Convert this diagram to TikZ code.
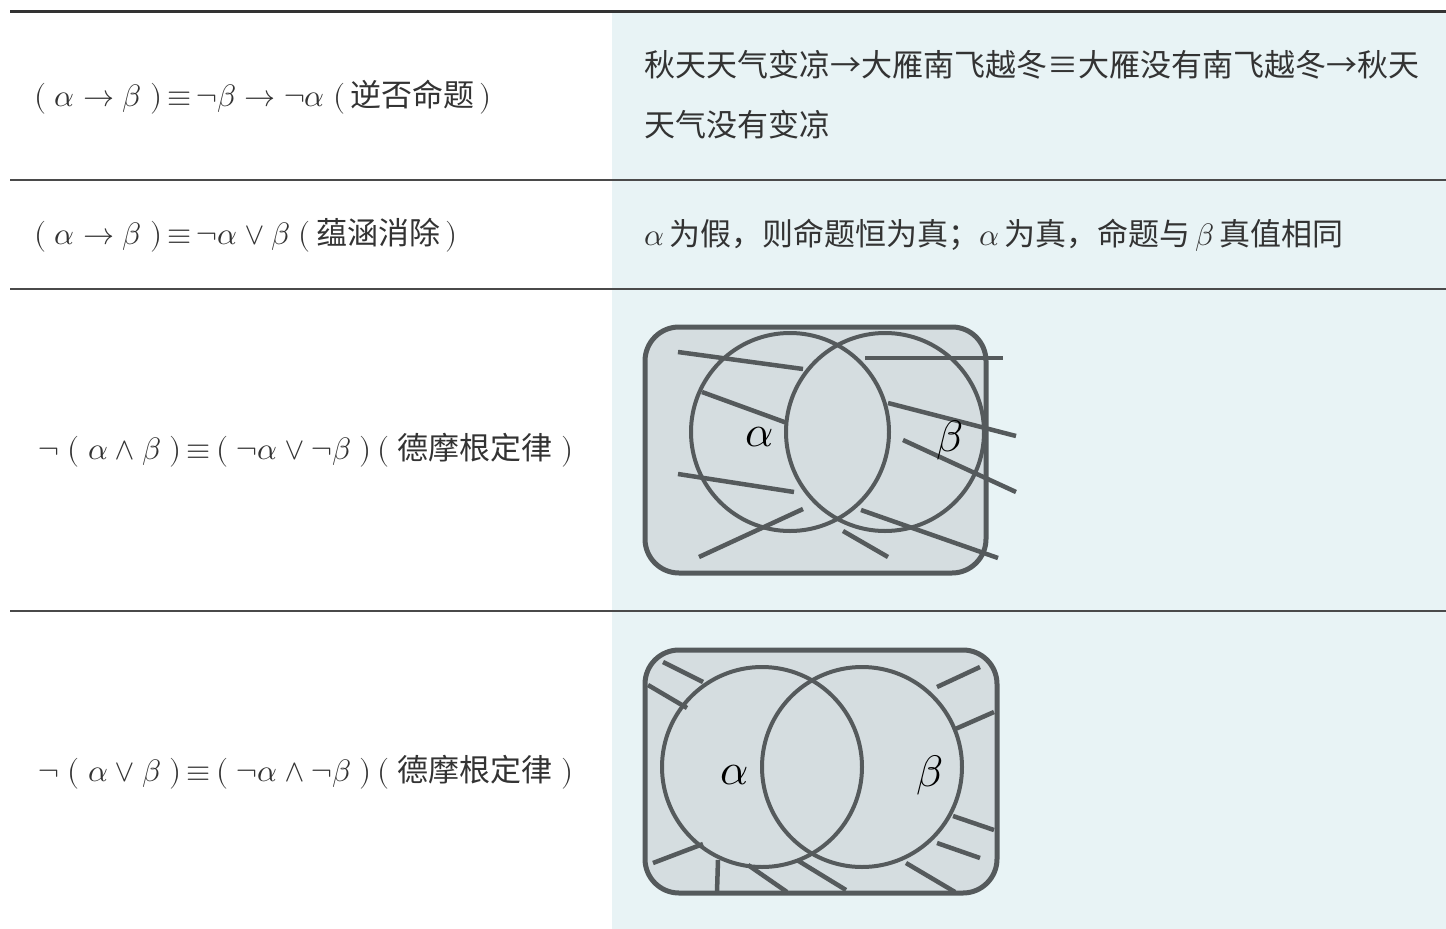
\documentclass[tikz,border=0pt]{standalone}
\usepackage{fontspec}
\usepackage{unicode-math}
\setmainfont{Noto Sans CJK SC}
\setmathfont{Latin Modern Math}
\definecolor{bgblue}{HTML}{E8F3F5}
\definecolor{txt}{HTML}{333333}
\definecolor{rule}{HTML}{4A4A4A}
\definecolor{vfill}{HTML}{D5DDE0}
\definecolor{vline}{HTML}{555A5C}
\tikzset{
  toprule/.style={draw=txt, line width=3pt},
  midrule/.style={draw=rule, line width=1.6pt},
  cell/.style={inner sep=0pt, anchor=west, text=txt, font=\fontsize{31}{60}\selectfont},
  vbox/.style={draw=vline, fill=vfill, line width=5pt, rounded corners=34pt},
  vcirc/.style={draw=vline, line width=4pt},
  hatch/.style={draw=vline, line width=4.5pt},
  vlab/.style={inner sep=0pt, text=black, font=\fontsize{44}{50}\selectfont}
}
\begin{document}
\begin{tikzpicture}[x=1pt,y=-1pt]
\useasboundingbox (0,0) rectangle (1446,929);
\fill[white] (0,0) rectangle (1446,929);
\fill[bgblue] (612,12) rectangle (1446,929);
% rules
\draw[toprule] (10,11) -- (1446,11);
\draw[midrule] (10,180) -- (1446,180);
\draw[midrule] (10,289) -- (1446,289);
\draw[midrule] (10,611) -- (1446,611);
% left column
\node[cell] (l1) at (34,97) {$(\;\alpha\rightarrow\beta\;)\,{\equiv}\,\neg\beta\rightarrow\neg\alpha\;(\,$逆否命题$\,)$};
\node[cell] (l2) at (34,235) {$(\;\alpha\rightarrow\beta\;)\,{\equiv}\,\neg\alpha\vee\beta\;(\,$蕴涵消除$\,)$};
\node[cell] (l3) at (38,450) {$\neg\;(\;\alpha\wedge\beta\;)\,{\equiv}\,(\;\neg\alpha\vee\neg\beta\;)\,(\;$德摩根定律$\;)$};
\node[cell] (l4) at (38,772) {$\neg\;(\;\alpha\vee\beta\;)\,{\equiv}\,(\;\neg\alpha\wedge\neg\beta\;)\,(\;$德摩根定律$\;)$};
% right column
\node[cell, align=left] (r1) at (644,95) {秋天天气变凉→大雁南飞越冬≡大雁没有南飞越冬→秋天\\天气没有变凉};
\node[cell] (r2) at (644,235) {$\alpha$\,为假，则命题恒为真；$\alpha$\,为真，命题与\,$\beta$\,真值相同};
% Venn 1
\draw[vbox] (645,327) rectangle (986,573);
\draw[hatch] (678,352) -- (803,369);
\draw[hatch] (865,358) -- (1003,358);
\draw[hatch] (702,392) -- (787,423);
\draw[hatch] (888,403) -- (1016,436);
\draw[hatch] (903,440) -- (1016,492);
\draw[hatch] (678,474) -- (794,492);
\draw[hatch] (803,509) -- (699,557);
\draw[hatch] (861,510) -- (998,558);
\draw[hatch] (843,531) -- (888,557);
\draw[vcirc] (790,432) circle[radius=99];
\draw[vcirc] (885,432) circle[radius=99];
\node[vlab] (a1) at (760,437) {$\alpha$};
\node[vlab] (b1) at (950,440) {$\beta$};
% Venn 2
\draw[vbox] (645,650) rectangle (997,893);
\draw[hatch] (663,662) -- (703,682);
\draw[hatch] (648,685) -- (687,708);
\draw[hatch] (937,687) -- (980,667);
\draw[hatch] (953,730) -- (994,712);
\draw[hatch] (953,816) -- (994,830);
\draw[hatch] (937,843) -- (980,858);
\draw[hatch] (906,863) -- (955,892);
\draw[hatch] (703,844) -- (653,863);
\draw[hatch] (718,860) -- (717,892);
\draw[hatch] (748,865) -- (787,892);
\draw[hatch] (797,860) -- (846,890);
\draw[vcirc] (762,767) circle[radius=100];
\draw[vcirc] (862,767) circle[radius=100];
\node[vlab] (a2) at (735,775) {$\alpha$};
\node[vlab] (b2) at (930,775) {$\beta$};
\end{tikzpicture}
\end{document}
